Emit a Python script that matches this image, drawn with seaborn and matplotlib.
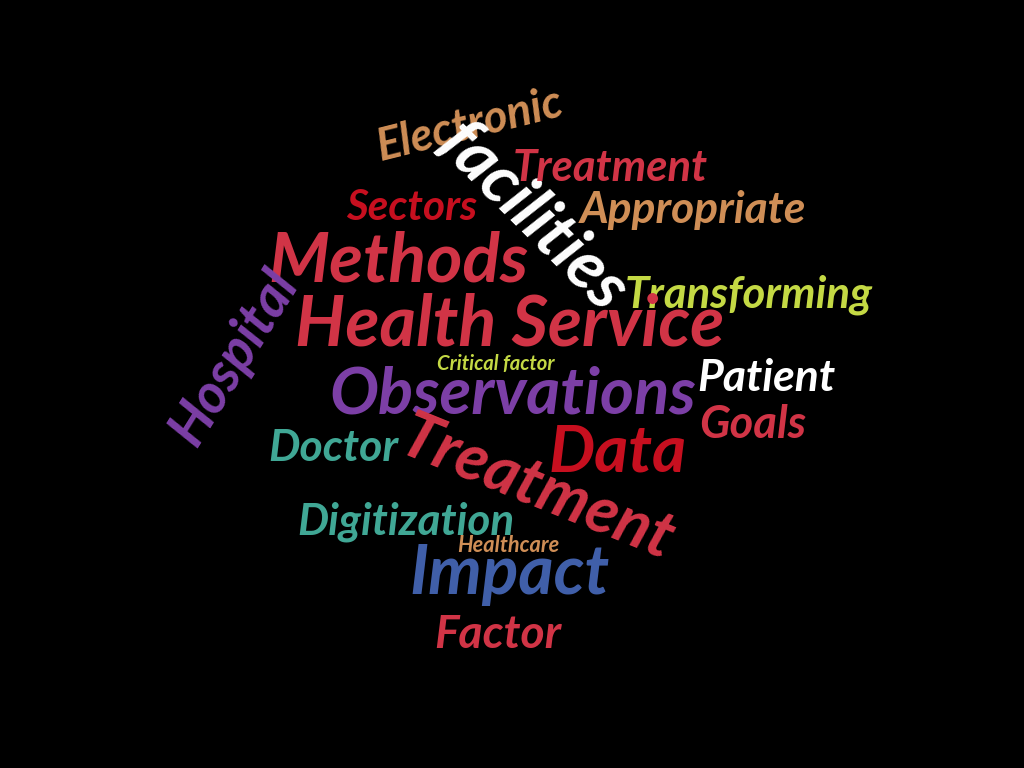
import matplotlib
matplotlib.use("Agg")
import matplotlib.pyplot as plt
import seaborn as sns

# ---- data: words of the cloud and their relative weights ----
words = ["Electronic", "facilities", "Treatment", "Sectors", "Appropriate",
         "Methods", "Transforming", "Hospital", "Health Service", "Critical factor",
         "Patient", "Observations", "Goals", "Doctor", "Treatment",
         "Data", "Digitization", "Healthcare", "Impact", "Factor"]
weights = [40, 52, 38, 36, 40, 62, 38, 40, 60, 18,
           40, 62, 38, 40, 62, 62, 40, 16, 62, 38]

# ---- layout (positions in pixels, angle in degrees, span in pixels) ----
cx = [470, 532, 610, 412, 693, 398, 749, 234, 510, 496,
      766, 513, 753, 333, 537, 618, 406, 508, 509, 498]
cy = [125, 217, 168, 208, 210, 262, 295, 357, 325, 364,
      378, 395, 425, 448, 488, 452, 522, 546, 575, 635]
angles = [14, -45, 0, 0, 0, 0, 0, 58, 0, 0,
          0, 0, 0, 0, -22, 0, 0, 0, 0, 0]
spans = [190, 238, 195, 131, 226, 260, 248, 195, 430, 118,
         138, 367, 107, 130, 290, 138, 217, 102, 200, 127]

RED = "#d13446"
DRED = "#c70f1f"
TAN = "#cf8e56"
LIME = "#c4d944"
PURP = "#7c3fa6"
TEAL = "#40a795"
BLUE = "#405fa9"
WHITE = "#ffffff"
colors = [TAN, WHITE, RED, DRED, TAN, RED, LIME, PURP, RED, LIME,
          WHITE, PURP, RED, TEAL, RED, DRED, TEAL, TAN, BLUE, RED]

sns.set_theme(style="dark", rc={"axes.facecolor": "black", "figure.facecolor": "black"})
plt.rcParams["font.family"] = ["Lato", "DejaVu Sans"]

fig = plt.figure(figsize=(10.24, 7.68), dpi=100)
ax = fig.add_axes([0, 0, 1, 1])
ax.set_facecolor("black")
ax.set_xlim(0, 1024)
ax.set_ylim(768, 0)
ax.set_axis_off()

renderer = fig.canvas.get_renderer()
for w, wt, x, y, a, s, c in zip(words, weights, cx, cy, angles, spans, colors):
    t = ax.text(x, y, w, fontsize=wt, color=c, fontweight="bold", style="italic",
                ha="center", va="center", rotation=0, rotation_mode="anchor")
    width = t.get_window_extent(renderer=renderer).width
    t.set_fontsize(wt * s / width)
    t.set_rotation(a)

fig.savefig("out.png", dpi=100, facecolor="black")
